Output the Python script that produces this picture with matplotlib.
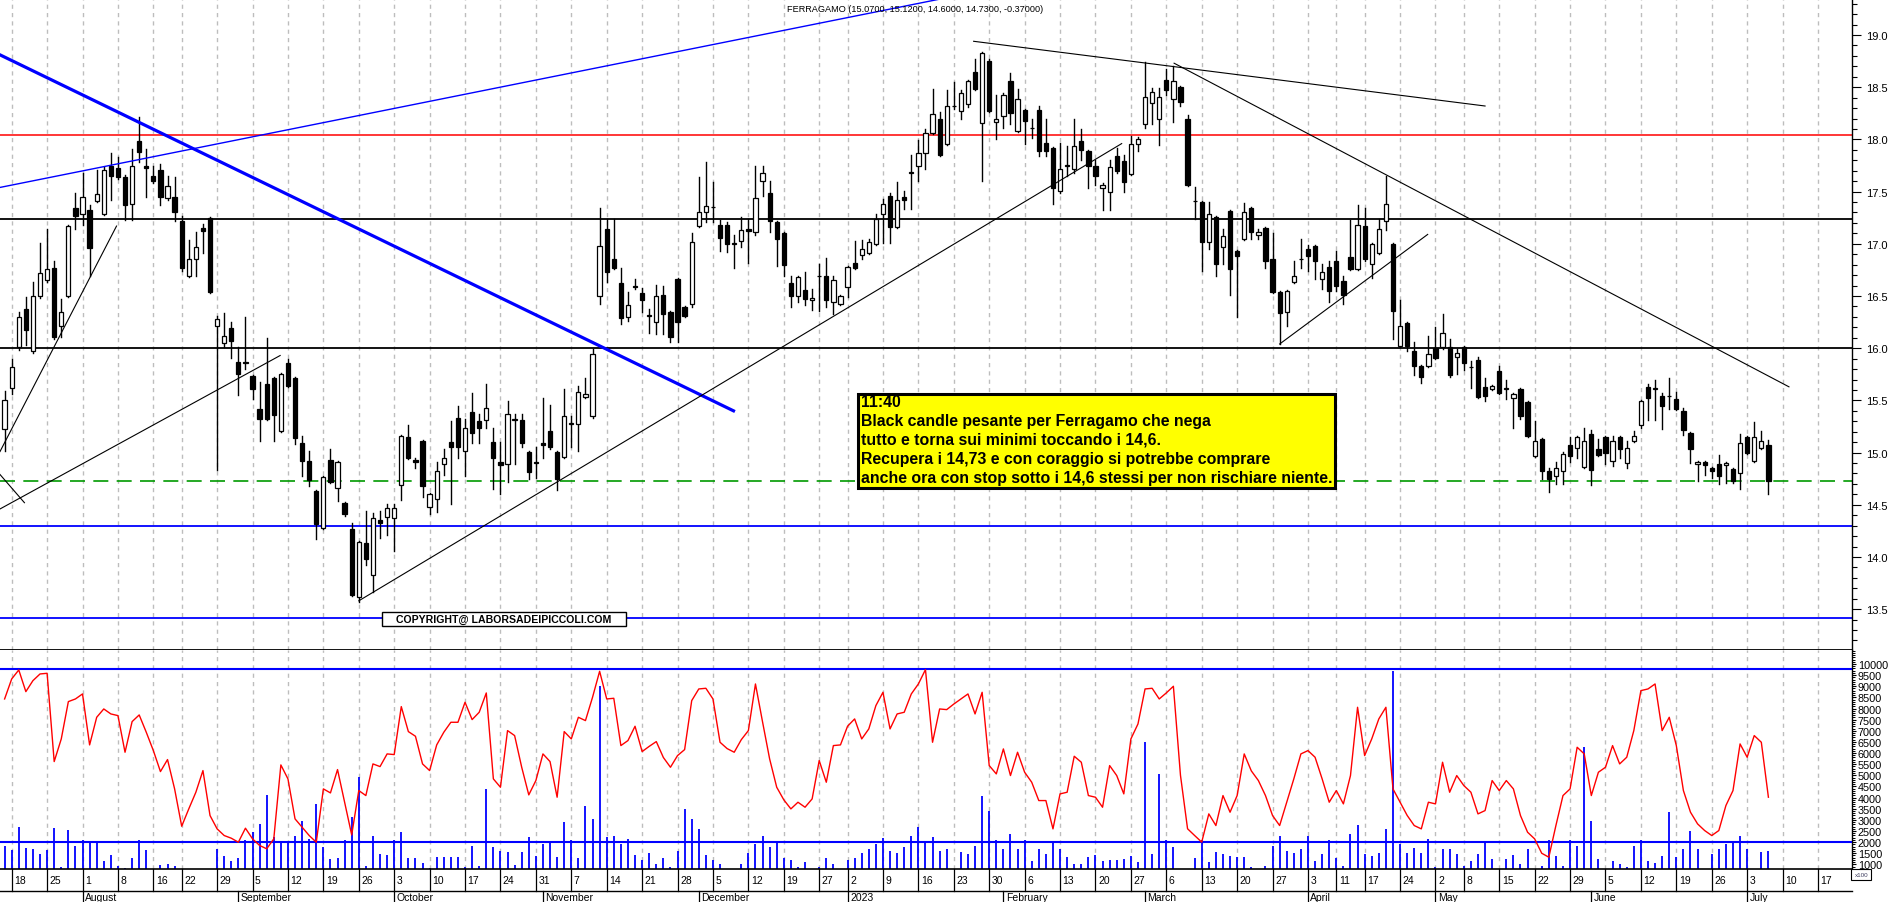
import numpy as np
import pandas as pd
import matplotlib
matplotlib.use('Agg')
import matplotlib.pyplot as plt
from matplotlib.patches import Rectangle
from matplotlib.lines import Line2D
from matplotlib.transforms import blended_transform_factory

plt.rcParams['font.family'] = ['Liberation Sans', 'DejaVu Sans']

# ---- dati (una candela per seduta, 15/07/2022 - 06/07/2023) ----
opens = [15.23, 15.62, 16.01, 16.38, 15.97, 16.50, 16.65, 16.77, 16.21, 16.50,
         17.34, 17.29, 17.32, 17.41, 17.29, 17.75, 17.73, 17.64, 17.38, 17.98,
         17.75, 17.65, 17.71, 17.44, 17.45, 17.22, 16.69, 16.85, 17.15, 17.25,
         16.21, 16.05, 16.19, 15.87, 15.87, 15.73, 15.42, 15.66, 15.71, 15.21,
         15.86, 15.71, 15.09, 14.92, 14.63, 14.28, 14.93, 14.66, 14.52, 14.27,
         13.62, 14.13, 13.83, 14.35, 14.38, 14.37, 14.69, 15.15, 14.93, 15.11,
         14.48, 14.56, 14.89, 15.10, 15.33, 15.02, 15.39, 15.30, 15.31, 15.10,
         14.91, 14.89, 15.31, 15.31, 15.01, 14.91, 15.09, 15.21, 15.01, 14.96,
         15.27, 15.27, 15.53, 15.35, 16.50, 17.14, 16.85, 16.62, 16.30, 16.60,
         16.53, 16.31, 16.25, 16.51, 16.35, 16.66, 16.39, 16.42, 17.17, 17.30,
         17.35, 17.18, 17.18, 17.00, 17.03, 17.14, 17.11, 17.60, 17.49, 17.21,
         17.10, 16.62, 16.50, 16.56, 16.46, 16.69, 16.69, 16.44, 16.42, 16.59,
         16.82, 16.89, 16.91, 17.00, 17.29, 17.46, 17.16, 17.45, 17.68, 17.75,
         17.87, 18.06, 18.20, 17.96, 18.32, 18.27, 18.34, 18.65, 18.16, 18.75,
         18.17, 18.22, 18.56, 18.08, 18.28, 18.11, 18.28, 17.97, 17.92, 17.51,
         17.75, 17.72, 17.98, 17.89, 17.75, 17.53, 17.50, 17.84, 17.79, 17.67,
         17.96, 18.15, 18.35, 18.20, 18.57, 18.39, 18.50, 18.20, 17.41, 17.40,
         17.02, 17.26, 16.97, 17.31, 16.93, 17.05, 17.34, 17.08, 17.15, 16.85,
         16.54, 16.35, 16.63, 16.85, 16.95, 16.98, 16.66, 16.78, 16.84, 16.64,
         16.87, 16.76, 17.17, 16.81, 16.91, 17.22, 17.00, 16.02, 16.24, 15.97,
         15.83, 15.83, 16.00, 16.01, 16.01, 15.92, 16.01, 15.82, 15.89, 15.63,
         15.61, 15.78, 15.61, 15.52, 15.61, 15.48, 14.97, 15.13, 14.82, 14.78,
         14.82, 15.07, 15.04, 14.86, 15.18, 15.03, 15.15, 14.92, 15.15, 14.90,
         15.11, 15.26, 15.63, 15.61, 15.54, 15.54, 15.51, 15.40, 15.19, 14.89,
         14.91, 14.85, 14.89, 14.88, 14.84, 14.80, 15.15, 14.92, 15.04, 15.07]

highs = [15.59, 15.90, 16.35, 16.49, 16.63, 17.01, 17.14, 16.84, 16.47, 17.18,
         17.49, 17.68, 17.37, 17.71, 17.74, 17.87, 17.83, 17.66, 17.91, 18.21,
         17.91, 17.75, 17.76, 17.65, 17.64, 17.27, 17.04, 17.11, 17.19, 17.26,
         16.31, 16.34, 16.25, 16.01, 16.30, 15.74, 15.68, 16.10, 15.72, 15.76,
         15.90, 15.72, 15.16, 15.02, 14.64, 14.78, 15.03, 14.92, 14.53, 14.33,
         14.15, 14.44, 14.42, 14.44, 14.51, 14.51, 15.17, 15.26, 14.95, 15.12,
         14.61, 14.91, 15.03, 15.30, 15.45, 15.32, 15.57, 15.37, 15.66, 15.24,
         15.10, 15.49, 15.37, 15.37, 15.02, 15.05, 15.52, 15.46, 15.02, 15.61,
         15.35, 15.64, 15.71, 15.99, 17.34, 17.24, 17.24, 16.77, 16.54, 16.66,
         16.58, 16.38, 16.61, 16.60, 16.36, 16.67, 16.40, 17.10, 17.64, 17.78,
         17.59, 17.23, 17.21, 17.08, 17.26, 17.24, 17.75, 17.75, 17.60, 17.22,
         17.11, 16.69, 16.69, 16.73, 16.57, 16.81, 16.86, 16.69, 16.51, 16.79,
         17.03, 17.04, 17.05, 17.29, 17.43, 17.49, 17.59, 17.51, 17.85, 17.99,
         18.10, 18.48, 18.26, 18.47, 18.55, 18.47, 18.57, 18.77, 18.84, 18.77,
         18.43, 18.44, 18.64, 18.48, 18.29, 18.20, 18.32, 18.20, 17.93, 17.97,
         17.94, 18.20, 18.10, 17.90, 17.80, 17.58, 17.80, 17.92, 17.85, 18.03,
         18.02, 18.74, 18.49, 18.49, 18.67, 18.70, 18.51, 18.23, 17.54, 17.41,
         17.40, 17.27, 17.14, 17.32, 16.94, 17.39, 17.35, 17.14, 17.16, 17.10,
         16.55, 16.56, 16.84, 17.05, 16.99, 16.99, 16.81, 16.84, 16.93, 16.69,
         17.23, 17.37, 17.34, 17.01, 17.24, 17.65, 17.01, 16.46, 16.25, 16.06,
         15.84, 16.12, 16.20, 16.33, 16.09, 15.99, 16.02, 15.88, 15.92, 15.71,
         15.65, 15.83, 15.70, 15.57, 15.62, 15.49, 15.30, 15.14, 14.85, 14.91,
         15.01, 15.15, 15.16, 15.24, 15.22, 15.13, 15.16, 15.16, 15.16, 15.11,
         15.21, 15.50, 15.66, 15.70, 15.57, 15.71, 15.58, 15.43, 15.20, 14.92,
         14.92, 14.86, 14.98, 14.91, 14.85, 15.18, 15.16, 15.29, 15.21, 15.12]

lows = [15.02, 15.56, 15.98, 16.03, 15.95, 16.48, 16.63, 16.09, 16.11, 16.49,
        17.14, 17.18, 16.69, 17.40, 17.28, 17.42, 17.62, 17.23, 17.23, 17.78,
        17.45, 17.58, 17.37, 17.42, 17.22, 16.74, 16.68, 16.69, 16.91, 16.53,
        14.83, 16.01, 15.91, 15.55, 15.80, 15.51, 15.11, 15.31, 15.11, 15.20,
        15.63, 15.08, 14.78, 14.68, 14.17, 14.27, 14.71, 14.54, 14.39, 13.63,
        13.57, 13.92, 13.66, 14.18, 14.21, 14.06, 14.55, 14.94, 14.85, 14.57,
        14.41, 14.43, 14.79, 14.51, 14.95, 14.78, 15.09, 15.09, 15.24, 14.65,
        14.60, 14.72, 14.89, 15.05, 14.75, 14.76, 14.95, 15.03, 14.64, 14.95,
        15.05, 15.02, 15.52, 15.33, 16.42, 16.63, 16.76, 16.23, 16.26, 16.57,
        16.35, 16.15, 16.14, 16.14, 16.06, 16.06, 16.30, 16.39, 17.16, 17.21,
        17.21, 16.93, 16.92, 16.77, 16.97, 16.82, 17.08, 17.46, 17.11, 16.79,
        16.69, 16.39, 16.44, 16.41, 16.37, 16.36, 16.39, 16.33, 16.41, 16.49,
        16.76, 16.85, 16.90, 16.99, 17.01, 17.01, 17.15, 17.33, 17.33, 17.60,
        17.72, 18.05, 17.84, 17.95, 18.29, 18.20, 18.31, 18.47, 17.60, 18.26,
        18.00, 18.11, 18.15, 18.07, 17.96, 18.01, 17.84, 17.84, 17.38, 17.49,
        17.65, 17.68, 17.80, 17.53, 17.56, 17.32, 17.32, 17.68, 17.50, 17.66,
        17.89, 18.11, 18.15, 17.95, 18.43, 18.17, 18.32, 17.55, 17.24, 16.74,
        16.95, 16.69, 16.81, 16.51, 16.30, 17.04, 17.05, 17.05, 16.77, 16.53,
        16.04, 16.21, 16.62, 16.77, 16.74, 16.66, 16.57, 16.44, 16.55, 16.42,
        16.75, 16.75, 16.84, 16.67, 16.90, 17.13, 16.09, 16.01, 15.97, 15.74,
        15.67, 15.82, 15.90, 15.99, 15.72, 15.75, 15.79, 15.62, 15.52, 15.49,
        15.60, 15.56, 15.51, 15.24, 15.32, 15.15, 14.96, 14.75, 14.62, 14.70,
        14.70, 14.91, 14.95, 14.85, 14.69, 14.97, 14.89, 14.87, 14.95, 14.85,
        15.10, 15.24, 15.31, 15.31, 15.23, 15.42, 15.41, 15.17, 14.90, 14.73,
        14.79, 14.76, 14.70, 14.71, 14.71, 14.65, 14.99, 14.91, 15.03, 14.60]

closes = [15.50, 15.82, 16.30, 16.17, 16.50, 16.72, 16.76, 16.11, 16.35, 17.17,
          17.27, 17.45, 16.96, 17.48, 17.71, 17.65, 17.64, 17.37, 17.75, 17.88,
          17.73, 17.60, 17.45, 17.55, 17.30, 16.77, 16.85, 16.97, 17.12, 16.54,
          16.28, 16.12, 16.07, 15.75, 15.86, 15.61, 15.32, 15.32, 15.36, 15.75,
          15.64, 15.14, 14.92, 14.74, 14.32, 14.77, 14.72, 14.91, 14.41, 13.64,
          14.14, 13.98, 14.37, 14.33, 14.47, 14.47, 15.16, 14.95, 14.91, 14.68,
          14.60, 14.82, 14.95, 15.05, 15.05, 15.24, 15.19, 15.24, 15.43, 14.95,
          14.88, 15.37, 15.32, 15.09, 14.81, 14.90, 15.07, 15.05, 14.75, 15.35,
          15.28, 15.58, 15.56, 15.94, 16.98, 16.73, 16.77, 16.29, 16.41, 16.59,
          16.46, 16.31, 16.50, 16.33, 16.11, 16.25, 16.31, 17.02, 17.30, 17.36,
          17.35, 17.06, 17.00, 17.00, 17.13, 17.12, 17.44, 17.68, 17.22, 17.05,
          16.80, 16.50, 16.68, 16.47, 16.48, 16.69, 16.46, 16.65, 16.50, 16.78,
          16.77, 16.95, 17.02, 17.24, 17.38, 17.16, 17.42, 17.42, 17.68, 17.87,
          18.06, 18.24, 17.85, 18.32, 18.32, 18.44, 18.56, 18.48, 18.83, 18.27,
          18.20, 18.43, 18.25, 18.39, 18.18, 18.11, 17.89, 17.89, 17.53, 17.72,
          17.75, 17.94, 17.90, 17.75, 17.65, 17.56, 17.74, 17.70, 17.59, 17.96,
          18.00, 18.41, 18.45, 18.41, 18.47, 18.56, 18.36, 17.56, 17.41, 17.02,
          17.29, 16.81, 17.07, 16.76, 16.88, 17.30, 17.11, 17.11, 16.84, 16.54,
          16.34, 16.55, 16.69, 16.85, 16.88, 16.84, 16.73, 16.55, 16.60, 16.51,
          16.76, 17.18, 16.85, 17.00, 17.14, 17.38, 16.36, 16.21, 16.02, 15.83,
          15.72, 15.94, 15.91, 16.15, 15.74, 15.95, 15.86, 15.82, 15.53, 15.54,
          15.64, 15.57, 15.61, 15.56, 15.35, 15.16, 15.11, 14.82, 14.75, 14.85,
          14.99, 14.97, 15.15, 15.11, 14.83, 14.98, 15.00, 15.11, 15.03, 15.04,
          15.16, 15.49, 15.52, 15.61, 15.45, 15.54, 15.42, 15.22, 15.03, 14.91,
          14.88, 14.82, 14.78, 14.90, 14.73, 15.09, 15.00, 15.15, 15.11, 14.73]

# volumi in centinaia di azioni (x100)
volumes = [1812, 1648, 2670, 1752, 1692, 1466, 1648, 2625, 868, 2550,
           1812, 2100, 2050, 1961, 1167, 1421, 943, 823, 1272, 2095,
           1662, 524, 973, 1018, 913, 763, 598, 539, 643, 688,
           1692, 1392, 1167, 1272, 2080, 2475, 2819, 4120, 2221, 2000,
           2050, 2296, 2970, 2150, 3717, 1767, 1242, 1272, 2100, 3118,
           4914, 913, 2296, 1466, 1421, 2100, 2475, 1272, 1272, 1063,
           823, 1317, 1317, 1317, 1317, 868, 1812, 913, 4390, 1767,
           1617, 1572, 973, 1542, 2221, 1392, 1916, 2065, 1317, 2924,
           2100, 1300, 3642, 3044, 9028, 2221, 2296, 1900, 2146, 1400,
           1200, 1500, 1000, 1300, 900, 1600, 3492, 3044, 2595, 1400,
           1200, 1000, 700, 800, 1000, 1500, 1900, 2296, 1800, 2000,
           1300, 1200, 900, 1100, 700, 900, 1300, 1000, 800, 1200,
           1300, 1500, 1700, 1900, 2176, 1600, 1500, 1800, 2296, 2670,
           2000, 2221, 1600, 1692, 645, 1542, 1466, 1841, 4091, 3417,
           2100, 1692, 2370, 1692, 2100, 1167, 1692, 1466, 2000, 1692,
           1317, 1018, 1018, 1317, 1400, 1167, 1212, 1212, 1242, 1362,
           1092, 6484, 1466, 5063, 2100, 1767, 570, 615, 1300, 2100,
           1100, 1542, 1466, 1362, 1317, 1317, 868, 570, 943, 1841,
           2296, 1617, 1512, 1692, 2296, 1167, 1466, 2100, 1272, 943,
           2370, 2775, 1466, 1392, 1512, 2595, 9700, 1916, 1512, 1722,
           1512, 2146, 868, 1692, 1692, 1466, 943, 1167, 1466, 1991,
           1242, 793, 1242, 1421, 1018, 1692, 793, 943, 2100, 1392,
           943, 2100, 1841, 6260, 2970, 1242, 793, 1167, 1018, 868,
           1841, 2100, 1167, 1063, 1392, 3373, 1317, 1692, 2520, 1692,
           718, 1466, 1692, 1916, 2000, 2266, 1692, 570, 1542, 1600]

# oscillatore (linea rossa) sulla stessa scala del pannello inferiore
oscill = [8429, 9327, 9731, 8758, 9252, 9551, 9581, 5617, 6634, 8310,
          8429, 8654, 6365, 7606, 7980, 7756, 7681, 6036, 7412, 7711,
          6933, 6110, 5168, 5707, 4390, 2714, 3492, 4240, 5213, 3193,
          2595, 2296, 2176, 1996, 2625, 2146, 1850, 1700, 2146, 5467,
          4839, 3044, 2670, 2296, 1996, 4390, 4210, 5258, 3792, 2325,
          4315, 4091, 5512, 5392, 5961, 5931, 8085, 6963, 6754, 5512,
          5213, 6365, 6933, 7382, 7382, 8280, 7502, 7831, 8698, 4839,
          4465, 7008, 6784, 5362, 4121, 4764, 5961, 5617, 4016, 6963,
          6634, 7606, 7457, 8504, 9671, 8429, 8459, 6335, 6560, 7203,
          6066, 6300, 6514, 5800, 5362, 5886, 6155, 8354, 8878, 8908,
          8429, 6484, 6200, 6036, 6600, 7008, 9102, 7400, 5737, 4465,
          3900, 3492, 3791, 3567, 3941, 5662, 4689, 6335, 6365, 7203,
          7532, 6634, 7083, 8130, 8728, 7083, 7756, 7831, 8654, 9102,
          9746, 6484, 7980, 7950, 8200, 8429, 8654, 7756, 8728, 5437,
          5063, 6185, 4989, 6036, 5138, 4689, 3866, 3866, 2595, 4166,
          4240, 5856, 5587, 4091, 4016, 3567, 5437, 4989, 4166, 6634,
          7307, 8878, 8908, 8429, 8700, 8998, 5000, 2600, 2296, 2000,
          3268, 2744, 4091, 3343, 4091, 5961, 5200, 4764, 4091, 3193,
          2744, 3800, 4839, 5961, 6110, 5812, 4839, 3792, 4315, 3717,
          4989, 8055, 5886, 6634, 7532, 8055, 4390, 3792, 3200, 2744,
          2595, 3792, 3717, 5587, 4240, 4989, 4540, 4240, 3268, 3417,
          4764, 4315, 4764, 4390, 3193, 2445, 2146, 1500, 1323, 2744,
          4091, 4390, 6260, 5961, 4091, 5138, 5362, 6335, 5512, 5812,
          7008, 8803, 8878, 9102, 7008, 7606, 6335, 4315, 3343, 2819,
          2520, 2296, 2520, 3642, 4315, 6410, 5812, 6784, 6484, 4016]

# livelli orizzontali tracciati
h_red = 18.04
h_black = [17.24, 16.00]
h_green = 14.73
h_blue = [14.30, 13.42]
osc_levels = [9760, 2000]

# trendline (indice seduta, prezzo)
thick_blue = ([-0.65, 102.9], [18.81, 15.40])
thin_blue = ([-0.65, 132.1], [17.54, 19.345])
black_lines = [([-0.65, 15.8], [15.01, 17.17]),
               ([-0.65, 38.9], [14.46, 15.93]),
               ([-0.65, 2.8], [14.79, 14.52]),
               ([50.0, 157.7], [13.58, 17.96]),
               ([136.8, 209.0], [18.94, 18.32]),
               ([165.1, 251.9], [18.73, 15.63]),
               ([180.0, 200.9], [16.04, 17.09])]

title = 'FERRAGAMO (15.0700, 15.1200, 14.6000, 14.7300, -0.37000)'
note_lines = ['11:40',
              'Black candle pesante per Ferragamo che nega',
              'tutto e torna sui minimi toccando i 14,6.',
              'Recupera i 14,73 e con coraggio si potrebbe comprare',
              'anche ora con stop sotto i 14,6 stessi per non rischiare niente.']
month_names = {1: '2023', 2: 'February', 3: 'March', 4: 'April', 5: 'May', 6: 'June',
               7: 'July', 8: 'August', 9: 'September', 10: 'October',
               11: 'November', 12: 'December'}

holidays = pd.to_datetime(['2022-08-15', '2022-12-26', '2023-04-07', '2023-04-10', '2023-05-01'])
days = pd.bdate_range('2022-07-15', '2023-07-21')
days = days[~days.isin(holidays)]

x = np.arange(len(opens))
XMIN, XMAX = -0.65, 260.8

fig = plt.figure(figsize=(18.9, 9.03), dpi=100)
ax = fig.add_axes([0, 0.27907, 0.97989, 0.72093])
axv = fig.add_axes([0, 0.03654, 0.97989, 0.24253], sharex=ax)

# settimane e mesi
week_pos, week_lab, month_pos, month_lab = [], [], [], []
for i, d in enumerate(days):
    if i == 0:
        continue
    prev = days[i - 1]
    if d.isocalendar()[1] != prev.isocalendar()[1]:
        week_pos.append(i)
        week_lab.append(str(d.day))
    if d.month != prev.month:
        month_pos.append(i)
        month_lab.append(month_names[d.month])

for a in (ax, axv):
    for w in week_pos:
        a.axvline(w, color='#bdbdbd', lw=1.0, ls=(0, (3, 3)), zorder=0)

# ---- pannello prezzi ----
ax.axhline(h_red, color='#ff0000', lw=1.1, zorder=1)
for h in h_black:
    ax.axhline(h, color='black', lw=1.3, zorder=1)
for h in h_blue:
    ax.axhline(h, color='#0000ff', lw=1.3, zorder=1)
ax.axhline(h_green, color='#009900', lw=1.2, ls=(0, (9, 5)), zorder=1)

for i in x:
    o, h, l, c = opens[i], highs[i], lows[i], closes[i]
    ax.plot([i, i], [l, h], color='black', lw=1.0, zorder=3)
    bottom = min(o, c)
    height = max(abs(c - o), 0.004)
    fc = 'white' if c >= o else 'black'
    ax.add_patch(Rectangle((i - 0.3, bottom), 0.6, height, facecolor=fc,
                           edgecolor='black', lw=0.9, zorder=4))

ax.plot(*thick_blue, color='#0000ff', lw=2.3, zorder=5)
ax.plot(*thin_blue, color='#0000ff', lw=1.0, zorder=5)
for xs, ys in black_lines:
    ax.plot(xs, ys, color='black', lw=0.8, zorder=5)

ax.set_xlim(XMIN, XMAX)
ax.set_ylim(13.109, 19.345)
ax.yaxis.tick_right()
ax.set_yticks(np.arange(13.5, 19.01, 0.5))
ax.set_yticklabels(['%.1f' % v for v in np.arange(13.5, 19.01, 0.5)])
ax.set_yticks(np.arange(13.2, 19.35, 0.1), minor=True)
ax.tick_params(axis='y', which='major', direction='out', length=6.3, width=0.8,
               labelsize=8, pad=3.5)
ax.tick_params(axis='y', which='minor', direction='out', length=3.3, width=0.8)
ax.tick_params(axis='x', which='both', bottom=False, labelbottom=False)
for s in ('top', 'left'):
    ax.spines[s].set_visible(False)
ax.spines['right'].set_linewidth(1.0)
ax.spines['bottom'].set_linewidth(1.3)

# box copyright
ax.add_patch(Rectangle((0.2063, 0.0364), 0.1317, 0.0220, transform=ax.transAxes,
                       facecolor='white', edgecolor='black', lw=1.0, zorder=6))
ax.text(0.2721, 0.0474, 'COPYRIGHT@ LABORSADEIPICCOLI.COM', transform=ax.transAxes,
        ha='center', va='center', fontsize=7.6, fontweight='bold', zorder=7)

# commento giallo
ax.add_patch(Rectangle((0.4633, 0.2488), 0.2576, 0.1444, transform=ax.transAxes,
                       facecolor='#ffff00', edgecolor='black', lw=2.2, zorder=6))
note_y = [0.382, 0.3525, 0.3235, 0.2945, 0.2645]
for t, yy in zip(note_lines, note_y):
    ax.text(0.4648, yy, t, transform=ax.transAxes, ha='left', va='center',
            fontsize=11.4, fontweight='bold', zorder=7)

fig.text(0.4841, 0.990, title, ha='center', va='center', fontsize=6.6)

# ---- pannello volumi / oscillatore ----
axv.vlines(x, 0, volumes, color='#0000ff', lw=1.3, zorder=2)
for lv in osc_levels:
    axv.axhline(lv, color='#0000ff', lw=1.5, zorder=3)
axv.plot(x, oscill, color='#ff0000', lw=1.0, zorder=4)
axv.set_ylim(793, 10627)
axv.yaxis.tick_right()
axv.set_yticks(np.arange(1000, 10001, 500))
axv.set_yticklabels([str(v) for v in range(1000, 10001, 500)])
axv.set_yticks(np.arange(900, 10601, 100), minor=True)
axv.tick_params(axis='y', which='major', direction='out', length=3.2, width=0.8,
                labelsize=7.8, pad=1)
axv.tick_params(axis='y', which='minor', direction='out', length=1.8, width=0.7)
axv.tick_params(axis='x', which='both', bottom=False, labelbottom=False)
for s in ('top', 'left'):
    axv.spines[s].set_visible(False)
axv.spines['right'].set_linewidth(1.0)
axv.spines['bottom'].set_linewidth(1.2)

# ---- asse date (due righe) ----
tr = blended_transform_factory(axv.transData, fig.transFigure)
y_top, y_mid = 0.03654, 0.01218
fig.add_artist(Line2D([XMIN, XMAX], [y_mid, y_mid], transform=tr, color='black', lw=1.0))
for w, lab in zip(week_pos, week_lab):
    if w > XMAX - 2:
        continue
    fig.add_artist(Line2D([w, w], [y_mid, y_top], transform=tr, color='black', lw=0.9))
    fig.text(w + 0.35, (y_mid + y_top) / 2, lab, transform=tr, ha='left', va='center',
             fontsize=7.5)
for m, lab in zip(month_pos, month_lab):
    fig.add_artist(Line2D([m, m], [0, y_mid], transform=tr, color='black', lw=0.9))
    fig.text(m + 0.35, 0.0052, lab, transform=tr, ha='left', va='center', fontsize=7.5)

# etichetta unita' volumi, sotto l'ultima etichetta dell'asse
fig.add_artist(Rectangle((0.9795, 0.0243), 0.0106, 0.0118, transform=fig.transFigure,
                         facecolor='white', edgecolor='black', lw=0.8))
fig.text(0.9848, 0.0302, 'x100', ha='center', va='center', fontsize=4.5, color='#404060')

fig.savefig('out.png', dpi=100)
